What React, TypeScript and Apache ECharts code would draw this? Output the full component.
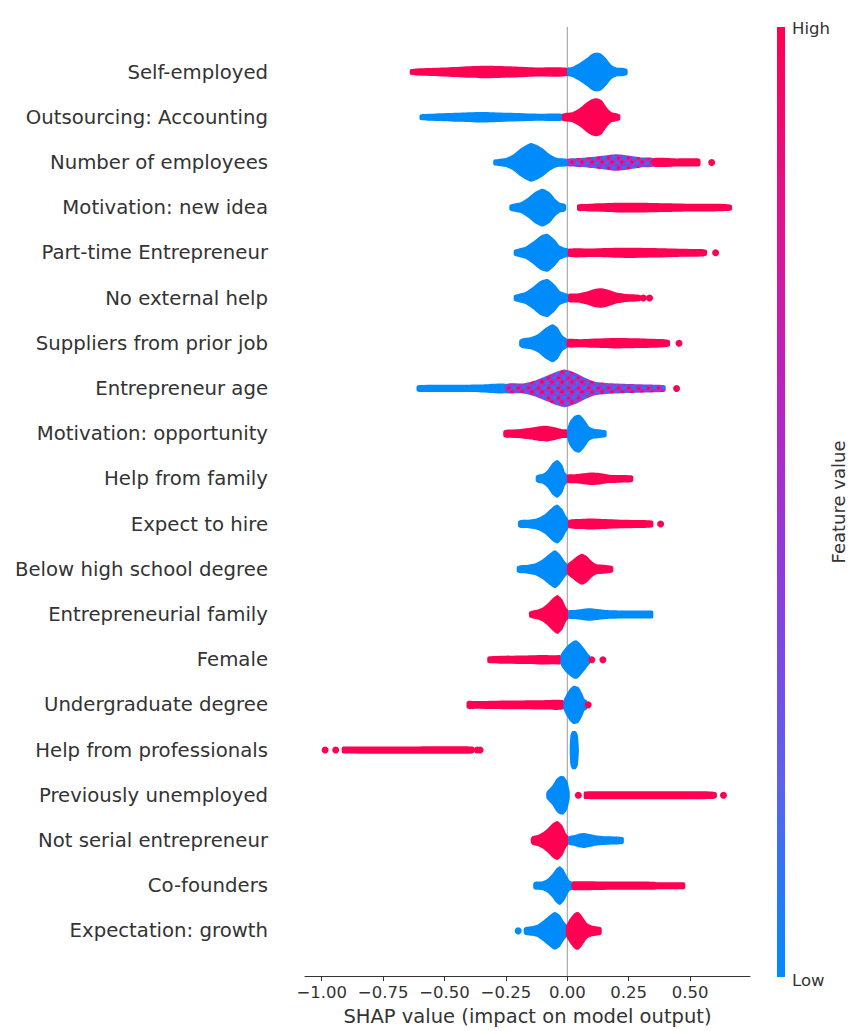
import React, { useEffect, useRef } from 'react';
import * as echarts from 'echarts';

// Features, top to bottom
const FEATURES = [
  'Self-employed',
  'Outsourcing: Accounting',
  'Number of employees',
  'Motivation: new idea',
  'Part-time Entrepreneur',
  'No external help',
  'Suppliers from prior job',
  'Entrepreneur age',
  'Motivation: opportunity',
  'Help from family',
  'Expect to hire',
  'Below high school degree',
  'Entrepreneurial family',
  'Female',
  'Undergraduate degree',
  'Help from professionals',
  'Previously unemployed',
  'Not serial entrepreneur',
  'Co-founders',
  'Expectation: growth',
];

const X_TICKS = [-1, -0.75, -0.5, -0.25, 0, 0.25, 0.5];

// Swarm density profiles: [SHAP value, half-thickness of the swarm (density units)]
const SELF_EMPLOYED_HIGH = [[-0.64, 2.5], [-0.61, 3.5], [-0.5, 4.5], [-0.4, 5.8], [-0.32, 6.3], [-0.22, 5.5], [-0.12, 4.5], [0, 4]];
const SELF_EMPLOYED_LOW = [[0, 4], [0.02, 5], [0.05, 9], [0.08, 14], [0.1, 18], [0.12, 19.5], [0.14, 18], [0.16, 13], [0.18, 7], [0.2, 4.5], [0.23, 4], [0.245, 2.5]];
const OUTSOURCING_LOW = [[-0.6, 2.5], [-0.56, 3.5], [-0.45, 4.5], [-0.35, 5.3], [-0.25, 4.5], [-0.12, 3.5], [-0.02, 3.3]];
const OUTSOURCING_HIGH = [[-0.02, 3.5], [0.02, 5], [0.05, 9], [0.08, 15], [0.1, 18], [0.12, 19], [0.14, 17], [0.16, 10], [0.18, 5], [0.2, 4], [0.215, 2.5]];
const EMPLOYEES_LOW = [[-0.3, 2.5], [-0.28, 3.5], [-0.25, 4.5], [-0.22, 8], [-0.19, 14], [-0.17, 17], [-0.147, 19.5], [-0.12, 17], [-0.1, 14], [-0.07, 8], [-0.04, 4.5], [0, 3.5]];
const EMPLOYEES_MIX = [[0, 3.5], [0.05, 4.5], [0.1, 5.5], [0.15, 7], [0.2, 8.3], [0.25, 7], [0.3, 5], [0.35, 4.2]];
const EMPLOYEES_HIGH = [[0.35, 4.2], [0.45, 4], [0.535, 4], [0.542, 2.5]];
const NEW_IDEA_LOW = [[-0.235, 2.5], [-0.22, 4], [-0.19, 5.5], [-0.16, 10], [-0.13, 16], [-0.1, 19], [-0.07, 15], [-0.05, 9], [-0.03, 5], [-0.01, 4], [-0.005, 2.5]];
const NEW_IDEA_HIGH = [[0.04, 2.5], [0.045, 3.5], [0.1, 4], [0.2, 4.8], [0.3, 5], [0.4, 4.5], [0.5, 4], [0.6, 3.8], [0.65, 3.5], [0.67, 2.5]];
const PART_TIME_LOW = [[-0.217, 2.5], [-0.2, 4], [-0.17, 6], [-0.14, 11], [-0.11, 17], [-0.08, 19], [-0.05, 13], [-0.03, 7], [-0.01, 5], [0.005, 4]];
const PART_TIME_HIGH = [[0.005, 4], [0.1, 4.3], [0.2, 5], [0.27, 5.2], [0.35, 4.8], [0.45, 4.2], [0.55, 3.8], [0.568, 2.5]];
const NO_HELP_LOW = [[-0.217, 2.5], [-0.2, 4], [-0.17, 6], [-0.14, 11], [-0.11, 17], [-0.08, 19], [-0.05, 13], [-0.03, 7], [-0.01, 5], [0.005, 4]];
const NO_HELP_HIGH = [[0.005, 4], [0.04, 4.5], [0.08, 6.5], [0.11, 9], [0.14, 9.7], [0.17, 8], [0.2, 5.5], [0.24, 4], [0.28, 3.5], [0.3, 2.5]];
const SUPPLIERS_LOW = [[-0.195, 3], [-0.18, 5], [-0.15, 6], [-0.12, 9], [-0.09, 15], [-0.06, 19], [-0.04, 16], [-0.02, 8], [0, 4]];
const SUPPLIERS_HIGH = [[0, 4], [0.05, 4], [0.1, 4.5], [0.2, 5.2], [0.3, 4.8], [0.38, 4.2], [0.41, 3.5], [0.418, 2.5]];
const AGE_LOW = [[-0.613, 2.5], [-0.6, 3.5], [-0.45, 3.7], [-0.35, 4], [-0.25, 4.5]];
const AGE_MIX = [[-0.25, 4.5], [-0.18, 5], [-0.13, 8], [-0.08, 13], [-0.04, 17], [-0.01, 19], [0.03, 16], [0.07, 11], [0.11, 7], [0.16, 5.5], [0.25, 4.5], [0.33, 4], [0.39, 3.5], [0.4, 2.5]];
const OPPORTUNITY_HIGH = [[-0.26, 2.5], [-0.25, 4], [-0.2, 4.5], [-0.15, 6], [-0.11, 7.5], [-0.08, 7.8], [-0.05, 6.5], [-0.02, 4.5], [0, 4]];
const OPPORTUNITY_LOW = [[0, 5], [0.01, 12], [0.03, 18], [0.05, 19], [0.07, 14], [0.09, 7], [0.11, 5], [0.14, 4], [0.155, 3.5], [0.16, 2.5]];
const FAMILY_HELP_LOW = [[-0.128, 2.5], [-0.12, 4], [-0.1, 5], [-0.08, 9], [-0.06, 16], [-0.04, 19], [-0.02, 14], [-0.01, 7], [0, 4]];
const FAMILY_HELP_HIGH = [[0, 4], [0.03, 4.5], [0.07, 5.5], [0.1, 6.3], [0.13, 5.8], [0.17, 4.2], [0.22, 3.8], [0.26, 3.5], [0.268, 2.5]];
const HIRE_LOW = [[-0.2, 2.5], [-0.19, 4], [-0.15, 4.5], [-0.12, 6], [-0.09, 10], [-0.06, 17], [-0.04, 19.5], [-0.02, 15], [-0.005, 8], [0.005, 4]];
const HIRE_HIGH = [[0.005, 4], [0.05, 5], [0.1, 5.5], [0.15, 5], [0.22, 4.3], [0.3, 4], [0.345, 3.5], [0.35, 2.5]];
const BELOW_HS_LOW = [[-0.205, 2.5], [-0.19, 4], [-0.16, 4.5], [-0.13, 6], [-0.1, 10], [-0.07, 16], [-0.05, 19], [-0.03, 15], [-0.01, 8], [0, 5]];
const BELOW_HS_HIGH = [[0, 5], [0.02, 9], [0.04, 13], [0.06, 15.5], [0.08, 13], [0.1, 8], [0.12, 5], [0.15, 4.5], [0.18, 3.5], [0.187, 2.5]];
const ENT_FAMILY_HIGH = [[-0.155, 2.5], [-0.14, 4], [-0.12, 5], [-0.1, 7], [-0.08, 11], [-0.06, 16], [-0.04, 19.5], [-0.02, 15], [-0.005, 7], [0.005, 4]];
const ENT_FAMILY_LOW = [[0.005, 4], [0.03, 4.5], [0.06, 5.5], [0.09, 6.3], [0.12, 5.5], [0.16, 4.5], [0.22, 4], [0.3, 4], [0.345, 4], [0.35, 3]];
const FEMALE_HIGH = [[-0.325, 2.5], [-0.315, 3.5], [-0.25, 4], [-0.18, 4.3], [-0.1, 4.8], [-0.05, 4.5], [-0.027, 4.5]];
const FEMALE_LOW = [[-0.027, 4.5], [-0.02, 8], [0, 14], [0.02, 18], [0.035, 19.5], [0.05, 17], [0.07, 11], [0.085, 6], [0.095, 3]];
const UNDERGRAD_HIGH = [[-0.41, 2.5], [-0.405, 4], [-0.37, 3.8], [-0.3, 4.2], [-0.2, 4.5], [-0.1, 4.7], [-0.015, 4.5]];
const UNDERGRAD_LOW = [[-0.015, 4.5], [-0.005, 10], [0.01, 16], [0.025, 19.3], [0.045, 18], [0.06, 12], [0.07, 6], [0.08, 4.5]];
const PRO_HELP_HIGH = [[-0.918, 2.5], [-0.912, 3.5], [-0.6, 3.7], [-0.4, 3.7], [-0.385, 3.5], [-0.38, 2.5]];
const PRO_HELP_LOW = [[0.01, 3], [0.013, 15], [0.02, 19], [0.035, 19], [0.043, 15], [0.047, 3]];
const UNEMPLOYED_LOW = [[-0.085, 3], [-0.075, 6], [-0.06, 10], [-0.045, 16], [-0.03, 19], [-0.015, 19], [0, 14], [0.008, 6], [0.01, 3]];
const UNEMPLOYED_HIGH = [[0.067, 2.5], [0.07, 3.8], [0.2, 4], [0.4, 4], [0.59, 3.8], [0.608, 2.5]];
const NOT_SERIAL_HIGH = [[-0.148, 2.5], [-0.14, 4.5], [-0.12, 5.5], [-0.1, 8], [-0.08, 12], [-0.06, 17], [-0.04, 19.5], [-0.02, 15], [-0.005, 7], [0.005, 4]];
const NOT_SERIAL_LOW = [[0.005, 4], [0.03, 5.5], [0.05, 7], [0.07, 7.5], [0.09, 6.5], [0.12, 5], [0.16, 4.2], [0.2, 4], [0.225, 3.5], [0.23, 2.5]];
const COFOUNDERS_LOW = [[-0.138, 2.5], [-0.13, 4], [-0.1, 4.5], [-0.08, 7], [-0.06, 12], [-0.045, 17], [-0.03, 19.5], [-0.015, 16], [0, 9], [0.01, 5], [0.02, 4]];
const COFOUNDERS_HIGH = [[0.02, 4], [0.05, 4.5], [0.15, 4.3], [0.25, 4.2], [0.35, 4], [0.37, 3.5], [0.475, 3.5], [0.48, 2.5]];
const GROWTH_LOW = [[-0.177, 2.5], [-0.17, 4], [-0.14, 5], [-0.12, 6.5], [-0.1, 10], [-0.08, 14], [-0.06, 18], [-0.05, 19], [-0.03, 16], [-0.015, 10], [0, 5]];
const GROWTH_HIGH = [[-0.005, 5], [0.01, 12], [0.03, 18], [0.045, 19], [0.06, 15], [0.08, 8], [0.1, 5.5], [0.12, 4.5], [0.135, 4], [0.14, 2.5]];

// Isolated points: [feature index (top = 0), SHAP value]
const HIGH_DOTS = [[2, 0.588], [4, 0.604], [5, 0.31], [5, 0.335], [6, 0.455], [7, 0.445], [10, 0.38], [13, 0.1], [13, 0.145], [14, 0.085], [15, -0.986], [15, -0.943], [15, -0.367], [15, -0.355], [16, 0.045], [16, 0.636]];
const LOW_DOTS = [[19, -0.2]];

// [feature index, colour kind, profile]
const BLOBS: [number, string, number[][]][] = [
  [0, 'high', SELF_EMPLOYED_HIGH], [0, 'low', SELF_EMPLOYED_LOW],
  [1, 'low', OUTSOURCING_LOW], [1, 'high', OUTSOURCING_HIGH],
  [2, 'low', EMPLOYEES_LOW], [2, 'mix', EMPLOYEES_MIX], [2, 'high', EMPLOYEES_HIGH],
  [3, 'low', NEW_IDEA_LOW], [3, 'high', NEW_IDEA_HIGH],
  [4, 'low', PART_TIME_LOW], [4, 'high', PART_TIME_HIGH],
  [5, 'low', NO_HELP_LOW], [5, 'high', NO_HELP_HIGH],
  [6, 'low', SUPPLIERS_LOW], [6, 'high', SUPPLIERS_HIGH],
  [7, 'low', AGE_LOW], [7, 'mix', AGE_MIX],
  [8, 'high', OPPORTUNITY_HIGH], [8, 'low', OPPORTUNITY_LOW],
  [9, 'low', FAMILY_HELP_LOW], [9, 'high', FAMILY_HELP_HIGH],
  [10, 'low', HIRE_LOW], [10, 'high', HIRE_HIGH],
  [11, 'low', BELOW_HS_LOW], [11, 'high', BELOW_HS_HIGH],
  [12, 'high', ENT_FAMILY_HIGH], [12, 'low', ENT_FAMILY_LOW],
  [13, 'high', FEMALE_HIGH], [13, 'low', FEMALE_LOW],
  [14, 'high', UNDERGRAD_HIGH], [14, 'low', UNDERGRAD_LOW],
  [15, 'high', PRO_HELP_HIGH], [15, 'low', PRO_HELP_LOW],
  [16, 'low', UNEMPLOYED_LOW], [16, 'high', UNEMPLOYED_HIGH],
  [17, 'high', NOT_SERIAL_HIGH], [17, 'low', NOT_SERIAL_LOW],
  [18, 'low', COFOUNDERS_LOW], [18, 'high', COFOUNDERS_HIGH],
  [19, 'low', GROWTH_LOW], [19, 'high', GROWTH_HIGH],
];

const HIGH = '#ff0052';
const LOW = '#008bfb';
const FONT = "'DejaVu Sans', sans-serif";
const DENSITY_TO_ROW = 1 / 45.4;

function makeMixPattern(): any {
  const c = document.createElement('canvas');
  c.width = 10;
  c.height = 10;
  const ctx = c.getContext('2d')!;
  ctx.fillStyle = '#a235cf';
  ctx.fillRect(0, 0, 10, 10);
  const dot = (x: number, y: number, r: number, col: string) => {
    ctx.fillStyle = col;
    ctx.beginPath();
    ctx.arc(x, y, r, 0, Math.PI * 2);
    ctx.fill();
  };
  dot(2, 2, 1.8, HIGH);
  dot(7, 3, 1.6, LOW);
  dot(4, 7.5, 1.7, LOW);
  dot(8.5, 8, 1.5, HIGH);
  return { image: c, repeat: 'repeat', imageWidth: 10, imageHeight: 10 };
}

export default function App() {
  const ref = useRef<HTMLDivElement>(null);
  useEffect(() => {
    if (!ref.current) return;
    const chart = echarts.init(ref.current, null, { renderer: 'svg' });
    const mix = makeMixPattern();
    const fillFor = (k: string) => (k === 'high' ? HIGH : k === 'low' ? LOW : mix);
    const rowY = (i: number) => FEATURES.length - 1 - i;
    const fmt = (v: number) => (v < 0 ? '\u2212' + Math.abs(v).toFixed(2) : v.toFixed(2));

    chart.setOption({
      animation: false,
      backgroundColor: '#ffffff',
      grid: { left: 305, right: 117, top: 26.8, bottom: 47 },
      xAxis: {
        type: 'value',
        min: -1.068,
        max: 0.744,
        splitLine: { show: false },
        axisLine: { onZero: false, lineStyle: { color: '#333333', width: 1 } },
        axisTick: { show: true, customValues: X_TICKS, length: 5, lineStyle: { color: '#333333' } },
        axisLabel: {
          customValues: X_TICKS,
          formatter: (v: number) => fmt(v),
          fontFamily: FONT,
          fontSize: 16.5,
          color: '#333333',
          margin: 8,
        },
        name: 'SHAP value (impact on model output)',
        nameLocation: 'middle',
        nameGap: 27,
        nameTextStyle: { fontFamily: FONT, fontSize: 19.5, color: '#333333' },
      },
      yAxis: {
        type: 'value',
        min: -1,
        max: 20,
        interval: 1,
        splitLine: { show: false },
        axisLine: { show: false, onZero: false },
        axisTick: { show: false },
        axisLabel: {
          fontFamily: FONT,
          fontSize: 19.7,
          color: '#333333',
          margin: 37,
          formatter: (v: number) => {
            const i = FEATURES.length - 1 - v;
            return i >= 0 && i < FEATURES.length ? FEATURES[i] : '';
          },
        },
      },
      series: [
        {
          type: 'line',
          data: [[0, -1], [0, 20]],
          symbol: 'none',
          lineStyle: { color: '#999999', width: 1 },
          z: 1,
          silent: true,
        },
        {
          type: 'custom',
          coordinateSystem: 'cartesian2d',
          z: 2,
          silent: true,
          clip: false,
          encode: { x: 0, y: 1 },
          data: BLOBS.map((b, i) => [b[2][0][0], rowY(b[0]), i]),
          renderItem: (params: any, api: any) => {
            const b = BLOBS[api.value(2) as number];
            const y = api.value(1) as number;
            const pts = b[2];
            const top = pts.map(([x, d]) => api.coord([x, y + d * DENSITY_TO_ROW]));
            const bot = pts
              .slice()
              .reverse()
              .map(([x, d]) => api.coord([x, y - d * DENSITY_TO_ROW]));
            return {
              type: 'polygon',
              shape: { points: top.concat(bot), smooth: 0.2 },
              style: { fill: fillFor(b[1]), stroke: null },
            };
          },
        },
        {
          type: 'scatter',
          z: 3,
          silent: true,
          symbolSize: 7,
          itemStyle: { color: HIGH, opacity: 1 },
          data: HIGH_DOTS.map(([i, v]) => [v, rowY(i)]),
        },
        {
          type: 'scatter',
          z: 3,
          silent: true,
          symbolSize: 7,
          itemStyle: { color: LOW, opacity: 1 },
          data: LOW_DOTS.map(([i, v]) => [v, rowY(i)]),
        },
      ],
      graphic: [
        {
          type: 'rect',
          shape: { x: 777, y: 27, width: 8, height: 950 },
          style: {
            fill: {
              type: 'linear',
              x: 0,
              y: 0,
              x2: 0,
              y2: 1,
              colorStops: [
                { offset: 0, color: '#ff0052' },
                { offset: 0.2, color: '#e0128f' },
                { offset: 0.4, color: '#b526c2' },
                { offset: 0.6, color: '#8a3fdf' },
                { offset: 0.8, color: '#5a62f0' },
                { offset: 1, color: '#008bfb' },
              ],
            },
          },
        },
        {
          type: 'text',
          x: 792,
          y: 28,
          style: { text: 'High', font: `16.5px ${FONT}`, fill: '#333333', textVerticalAlign: 'middle' },
        },
        {
          type: 'text',
          x: 792,
          y: 980,
          style: { text: 'Low', font: `16.5px ${FONT}`, fill: '#333333', textVerticalAlign: 'middle' },
        },
        {
          type: 'text',
          x: 838,
          y: 502,
          rotation: Math.PI / 2,
          style: {
            text: 'Feature value',
            font: `18px ${FONT}`,
            fill: '#333333',
            textAlign: 'center',
            textVerticalAlign: 'middle',
          },
        },
      ],
    });
    return () => chart.dispose();
  }, []);
  return <div ref={ref} style={{ position: 'fixed', left: 0, top: 0, width: 867, height: 1031 }} />;
}
